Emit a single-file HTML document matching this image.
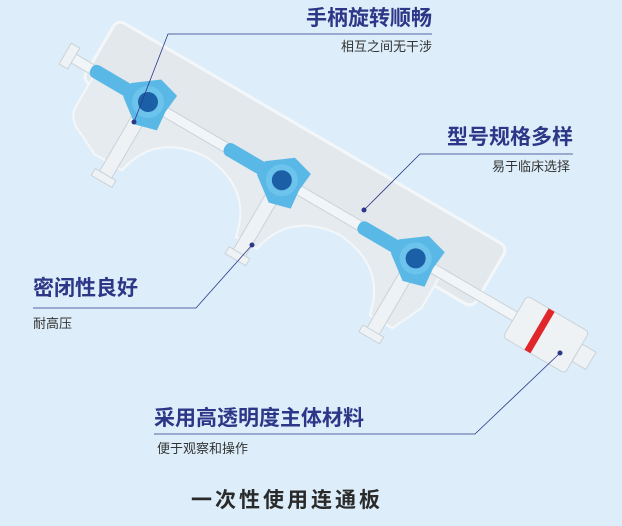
<!DOCTYPE html>
<html><head><meta charset="utf-8"><style>
html,body{margin:0;padding:0}
body{width:622px;height:526px;background:#ddeefa;position:relative;overflow:hidden;font-family:"Liberation Sans","Noto Sans CJK SC",sans-serif}
.t{position:absolute;font-weight:bold;color:#2c3787;font-size:21px;line-height:24px;white-space:nowrap}
.s{position:absolute;color:#333;font-size:13px;line-height:16px;white-space:nowrap}
svg{position:absolute;left:0;top:0}
</style></head><body>
<svg width="622" height="526" viewBox="0 0 622 526">
<g transform="translate(148,102) rotate(30.3)">
  <rect x="-68" y="-56" width="452" height="70" rx="8" fill="#e3e8ec" stroke="#f4f7f9" stroke-width="3"/>
  <path d="M-60,0 L-60,40 Q-60,55 -40,62 L-20,72 L12,72 Q22,22 78,18 Q134,22 144,72 L168,72 Q178,22 233,18 Q289,22 299,72 L325,72 L340,40 L340,0 Z" fill="#e6ebef" stroke="#f4f7f9" stroke-width="2"/>
  <g fill="#eef2f5" stroke="#c9d2d8" stroke-width="1">
    <rect x="-7" y="10" width="14" height="78"/>
    <rect x="148" y="10" width="14" height="78"/>
    <rect x="303" y="10" width="14" height="78"/>
    <rect x="-12" y="84" width="24" height="8"/>
    <rect x="143" y="84" width="24" height="8"/>
    <rect x="298" y="84" width="24" height="8"/>
  </g>
  <rect x="-90" y="-5" width="540" height="10" fill="#f2f5f7" stroke="#c9d2d8" stroke-width="1"/>
  <rect x="-96" y="-12" width="10" height="24" fill="#eef2f5" stroke="#c9d2d8"/>
  <rect x="425" y="-24" width="72" height="48" rx="4" fill="#eef2f5" stroke="#c9d2d8"/>
  <rect x="450" y="-24" width="7" height="48" fill="#e0262b"/>
  <rect x="497" y="-10" width="16" height="20" fill="#eef2f5" stroke="#c9d2d8"/>
  <g id="sc">
    <rect x="-66" y="-7" width="50" height="14" rx="6" fill="#5ab8e6"/>
    <path d="M-24,-8 L0,-26 L22,-20 L20,0 L22,20 L0,26 L-24,8 Z" fill="#5ab8e6"/>
    <circle r="16" fill="#6cc3ec"/>
    <circle r="10" fill="#1b5fa6"/>
  </g>
  <use href="#sc" x="155"/>
  <use href="#sc" x="310"/>
</g>
<g stroke="#2c3787" stroke-width="0.8" fill="none">
  <path d="M432,34 L168,34 L134,122"/>
  <path d="M573,154 L420,154 L364,210"/>
  <path d="M33,308 L196,308 L252,245"/>
  <path d="M154,434 L475,434 L560,353"/>
</g>
<g fill="#2c3787"><circle cx="134" cy="122" r="2.5"/><circle cx="364" cy="210" r="2.5"/><circle cx="252" cy="245" r="2.5"/><circle cx="560" cy="353" r="2.5"/></g>
</svg>
<div class="t" style="right:190px;top:7px">手柄旋转顺畅</div>
<div class="s" style="right:190px;top:39px">相互之间无干涉</div>
<div class="t" style="right:49px;top:126px">型号规格多样</div>
<div class="s" style="right:52px;top:159px">易于临床选择</div>
<div class="t" style="left:33px;top:277px">密闭性良好</div>
<div class="s" style="left:33px;top:316px">耐高压</div>
<div class="t" style="left:154px;top:407px">采用高透明度主体材料</div>
<div class="s" style="left:157px;top:441px">便于观察和操作</div>
<div class="t" style="left:191px;top:489px;color:#2a2a2a;letter-spacing:3px">一次性使用连通板</div>
</body></html>
